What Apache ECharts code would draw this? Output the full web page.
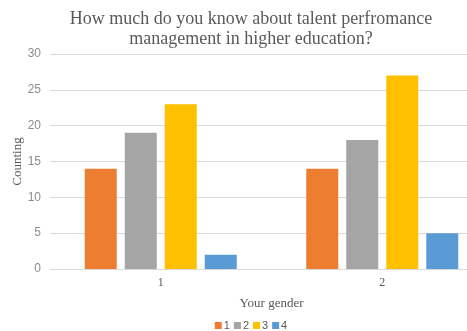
<!DOCTYPE html>
<html>
<head>
<meta charset="utf-8">
<script src="https://cdn.jsdelivr.net/npm/echarts@6/dist/echarts.min.js"></script>
<style>html,body{margin:0;padding:0;background:#fff;overflow:hidden;width:467px;height:331px}#c{width:502px;height:331px}</style>
</head>
<body>
<div id="c"></div>
<script>
var categories = ['1', '2'];
var seriesNames = ['1', '2', '3', '4'];
var values1 = [14, 14];
var values2 = [19, 18];
var values3 = [23, 27];
var values4 = [2, 5];
var colors = ['#ED7D31', '#A5A5A5', '#FFC000', '#5B9BD5'];
var yTicks = { min: 0, max: 30, interval: 5 };

var allValues = [values1, values2, values3, values4];
var chart = echarts.init(document.getElementById('c'));
chart.setOption({
  animation: false,
  title: {
    text: 'How much do you know about talent perfromance\nmanagement in higher education?',
    left: 'center',
    top: 4,
    textStyle: { fontFamily: 'Liberation Serif', fontSize: 18, fontWeight: 'normal', color: '#595959', lineHeight: 20 }
  },
  legend: {
    data: seriesNames,
    left: 'center',
    top: 320,
    itemWidth: 7,
    itemHeight: 7,
    itemGap: 4,
    icon: 'rect',
    textStyle: { fontFamily: 'Liberation Sans', fontSize: 11, color: '#595959', padding: [0, 0, 0, -3] },
    padding: 0
  },
  grid: { left: 50, right: 9, top: 54, bottom: 62, containLabel: false, outerBoundsMode: 'none' },
  xAxis: {
    type: 'category',
    data: categories,
    name: 'Your gender',
    nameLocation: 'middle',
    nameGap: 28,
    nameMoveOverlap: false,
    nameTextStyle: { fontFamily: 'Liberation Serif', fontSize: 13, color: '#595959' },
    axisTick: { show: false },
    axisLine: { lineStyle: { color: '#D9D9D9' } },
    axisLabel: { fontFamily: 'Liberation Serif', fontSize: 12, color: '#595959', margin: 8 }
  },
  yAxis: {
    type: 'value',
    min: yTicks.min,
    max: yTicks.max,
    interval: yTicks.interval,
    name: 'Counting',
    nameLocation: 'middle',
    nameGap: 26,
    nameMoveOverlap: false,
    nameTextStyle: { fontFamily: 'Liberation Serif', fontSize: 13, color: '#595959' },
    axisLine: { show: false },
    axisTick: { show: false },
    splitLine: { lineStyle: { color: '#D9D9D9' } },
    axisLabel: { fontFamily: 'Liberation Sans', fontSize: 12, color: '#8C8C8C', margin: 9 }
  },
  series: seriesNames.map(function (n, i) {
    return {
      name: n,
      type: 'bar',
      data: allValues[i],
      barWidth: 32,
      barGap: '25%',
      itemStyle: { color: colors[i] }
    };
  })
});
</script>
</body>
</html>
